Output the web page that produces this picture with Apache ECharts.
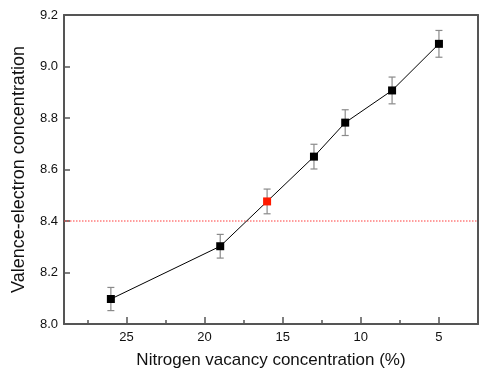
<!DOCTYPE html>
<html>
<head>
<meta charset="utf-8">
<script src="https://cdn.jsdelivr.net/npm/echarts@6/dist/echarts.min.js"></script>
<style>html,body{margin:0;padding:0;background:#fff;}#c{width:500px;height:375px;}</style>
</head>
<body>
<div id="c"></div>
<script>
var vacancy = [26, 19, 16, 13, 11, 8, 5];
var vec = [8.097, 8.302, 8.476, 8.650, 8.782, 8.907, 9.088];
var errs = [0.045, 0.046, 0.048, 0.048, 0.050, 0.052, 0.052];
var highlightIndex = 2;
var majorTicks = [5, 10, 15, 20, 25];
var minorTicks = [7.5, 12.5, 17.5, 22.5, 27.5];
var refLine = 8.4;
var xTitle = 'Nitrogen vacancy concentration (%)';
var yTitle = 'Valence-electron concentration';

var font = 'Liberation Sans, Arial, sans-serif';
var axisColor = '#555';

var points = vacancy.map(function (x, i) {
  var item = { value: [x, vec[i]] };
  if (i === highlightIndex) item.itemStyle = { color: '#ff1a00' };
  return item;
});
var errData = vacancy.map(function (x, i) { return [x, vec[i] - errs[i], vec[i] + errs[i]]; });
var refData = [[29, refLine], [2.5, refLine]];

var chart = echarts.init(document.getElementById('c'));
chart.setOption({
  animation: false,
  backgroundColor: '#fff',
  grid: { left: 64, right: 22, top: 15, bottom: 51 },
  xAxis: [
    {
      type: 'value', inverse: true, min: 2.5, max: 29, position: 'bottom',
      axisLine: { show: true, lineStyle: { color: axisColor, width: 2 } },
      axisTick: { show: true, inside: true, length: 7, customValues: majorTicks, lineStyle: { color: axisColor, width: 1.5 } },
      axisLabel: { customValues: majorTicks, color: '#111', fontSize: 13, fontFamily: font, margin: 7 },
      splitLine: { show: false },
      name: xTitle, nameLocation: 'middle', nameGap: 28,
      nameTextStyle: { color: '#111', fontSize: 17, fontFamily: font }
    },
    {
      type: 'value', inverse: true, min: 2.5, max: 29, position: 'bottom',
      axisLine: { show: false },
      axisTick: { show: true, inside: true, length: 4, customValues: minorTicks, lineStyle: { color: axisColor, width: 1.5 } },
      axisLabel: { show: false },
      splitLine: { show: false }
    },
    {
      type: 'value', inverse: true, min: 2.5, max: 29, position: 'top',
      axisLine: { show: true, onZero: false, lineStyle: { color: axisColor, width: 2 } },
      axisTick: { show: false }, axisLabel: { show: false }, splitLine: { show: false }
    }
  ],
  yAxis: [
    {
      type: 'value', min: 8.0, max: 9.2, interval: 0.2,
      axisLine: { show: true, onZero: false, lineStyle: { color: axisColor, width: 2 } },
      axisTick: { show: true, inside: true, length: 6, lineStyle: { color: axisColor, width: 1.5 } },
      axisLabel: { color: '#111', fontSize: 13, fontFamily: font, margin: 6, formatter: function (v) { return v.toFixed(1); } },
      splitLine: { show: false },
      name: yTitle, nameLocation: 'middle', nameGap: 36,
      nameTextStyle: { color: '#111', fontSize: 18, fontFamily: font }
    },
    {
      type: 'value', min: 8.0, max: 9.2, position: 'right',
      axisLine: { show: true, onZero: false, lineStyle: { color: axisColor, width: 2 } },
      axisTick: { show: false }, axisLabel: { show: false }, splitLine: { show: false }
    }
  ],
  series: [
    {
      type: 'line', xAxisIndex: 0, yAxisIndex: 0, z: 1,
      data: refData, symbol: 'none', silent: true,
      lineStyle: { color: '#ff3b3b', type: [1.5, 1.5], width: 1 },
      itemStyle: { color: '#ff3b3b' }
    },
    {
      type: 'custom', xAxisIndex: 0, yAxisIndex: 0, z: 2,
      data: errData,
      renderItem: function (params, api) {
        var x = api.value(0);
        var lo = api.coord([x, api.value(1)]);
        var hi = api.coord([x, api.value(2)]);
        var cw = 3.5;
        var st = { stroke: '#8a8a8a', lineWidth: 1.2 };
        return {
          type: 'group',
          children: [
            { type: 'line', shape: { x1: lo[0], y1: lo[1], x2: hi[0], y2: hi[1] }, style: st },
            { type: 'line', shape: { x1: lo[0] - cw, y1: lo[1], x2: lo[0] + cw, y2: lo[1] }, style: st },
            { type: 'line', shape: { x1: hi[0] - cw, y1: hi[1], x2: hi[0] + cw, y2: hi[1] }, style: st }
          ]
        };
      }
    },
    {
      type: 'line', xAxisIndex: 0, yAxisIndex: 0, z: 3,
      data: points,
      symbol: 'rect', symbolSize: 8,
      itemStyle: { color: '#000' },
      lineStyle: { color: '#000', width: 1 }
    }
  ]
});
</script>
</body>
</html>
